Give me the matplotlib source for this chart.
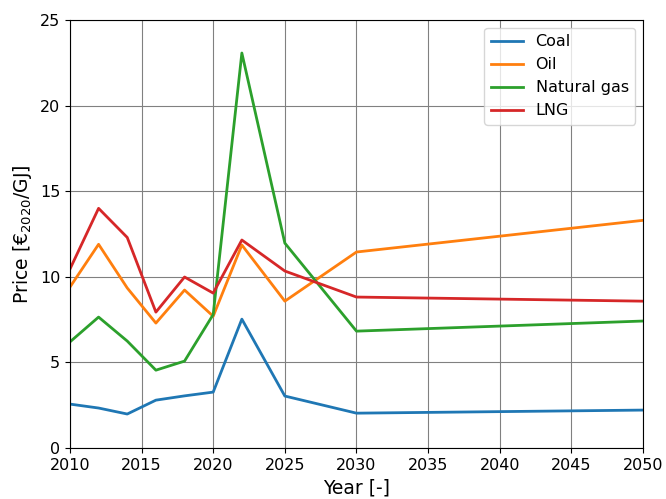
import matplotlib
matplotlib.use("Agg")
from matplotlib import pyplot as plt

years = [2010, 2012, 2014, 2016, 2018, 2020, 2022, 2025, 2030, 2050]
coal = [2.57, 2.34, 1.99, 2.80, 3.05, 3.27, 7.53, 3.04, 2.04, 2.22]
oil = [9.4, 11.9, 9.35, 7.3, 9.23, 7.7, 11.86, 8.58, 11.45, 13.3]
natural_gas = [6.2, 7.65, 6.25, 4.55, 5.08, 7.8, 23.07, 11.97, 6.83, 7.42]
lng = [10.45, 14.0, 12.3, 7.94, 9.99, 9.05, 12.15, 10.34, 8.82, 8.58]

series = [("Coal", coal), ("Oil", oil), ("Natural gas", natural_gas), ("LNG", lng)]
colors = ["tab:blue", "tab:orange", "tab:green", "tab:red"]

fig, ax = plt.subplots(figsize=(6.66, 4.99), dpi=100)
fig.subplots_adjust(left=0.105, right=0.9655, top=0.96, bottom=0.102)

for (label, values), color in zip(series, colors):
    ax.plot(years, values, color=color, linewidth=2, label=label)

ax.set_xlim(2010, 2050)
ax.set_ylim(0, 25)
ax.set_xticks(range(2010, 2051, 5))
ax.set_yticks(range(0, 26, 5))
ax.tick_params(labelsize=11.5)
ax.grid(True, color="gray", linewidth=0.8)
ax.set_xlabel("Year [-]", fontsize=13.5)
ax.set_ylabel(r"Price [€$_{2020}$/GJ]", fontsize=13.5)
ax.legend(loc="upper right", fontsize=11.5)

fig.savefig("out.png", dpi=100)
